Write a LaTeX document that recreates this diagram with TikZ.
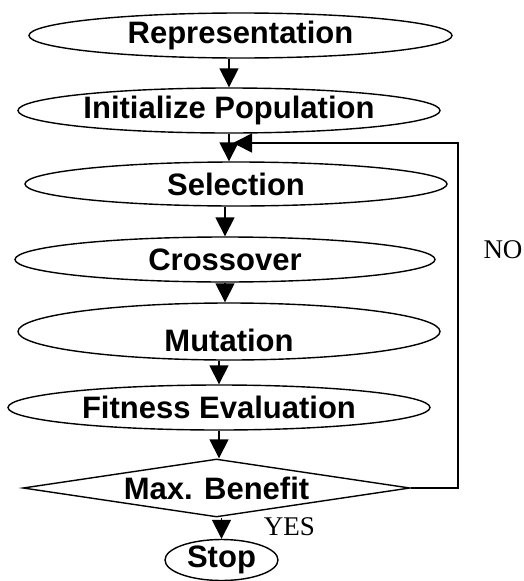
\documentclass[tikz,border=0pt]{standalone}
\usepackage{fontspec}
\setmainfont{Liberation Serif}
\setsansfont{Liberation Sans}
\usepackage{tikz}
\usetikzlibrary{arrows.meta,shapes.geometric,positioning,calc}
\newcommand{\stagefont}{\sffamily\bfseries\fontsize{31}{31}\selectfont}

\begin{document}
\begin{tikzpicture}[x=1pt, y=-1pt,
    stage/.style={draw, ellipse, line width=1.4pt, inner sep=0pt, minimum width=422pt, minimum height=45pt, font=\stagefont},
    test/.style={draw, diamond, line width=1.4pt, inner sep=0pt, aspect=6.7, minimum width=387pt, minimum height=58pt, font=\stagefont},
    lbl/.style={inner sep=0pt, font=\fontsize{27}{27}\selectfont},
    arr/.style={-{Triangle[length=19pt,width=19pt]}, line width=1.6pt}
]
\useasboundingbox (0,0) rectangle (523,581);

\node[stage, minimum width=423pt] (rep) at (240.5,35.5) {Representation};
\node[stage] (init) at (229,110.5) {Initialize Population};
\node[stage, minimum height=44pt] (sel) at (236,184) {Selection};
\node[stage, minimum width=420pt] (cross) at (225,259.5) {Crossover};
\node[stage, text height=40pt] (mut) at (229,331.5) {Mutation};
\node[stage] (fit) at (219,407.5) {Fitness Evaluation};
\node[test] (max) at (216.5,488) {Max. Benefit};
\node[stage, minimum width=113pt, minimum height=41pt] (stop) at (221.5,560) {Stop};
\coordinate (back) at (233,143);

\draw[arr] (rep.south -| init.north) -- (init.north);
\draw[arr] (init.south) -- (init.south |- sel.north);
\draw[arr] (sel.south -| cross.north) -- (cross.north);
\draw[arr] (cross.south) -- (cross.south |- mut.north);
\draw[arr] (mut.south -| fit.north) -- (fit.north);
\draw[arr] (fit.south) -- (fit.south |- max.north);
\draw[arr] (max.south -| stop.north) -- node[lbl, anchor=west, xshift=41.5pt, yshift=2pt] {YES} (stop.north);
\draw[arr] (max.east) -- ++(47,0) |- node[lbl, pos=0.345, anchor=west, xshift=25pt] {NO} (back);
\end{tikzpicture}
\end{document}
